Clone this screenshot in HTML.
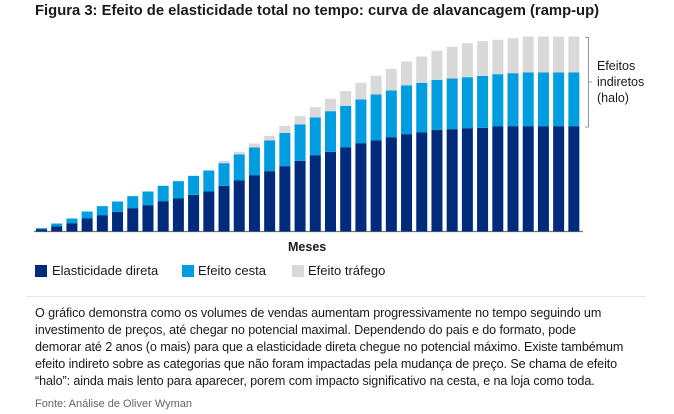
<!DOCTYPE html>
<html><head><meta charset="utf-8">
<style>
body{margin:0;background:#fff;width:674px;height:414px;overflow:hidden;font-family:"Liberation Sans",sans-serif;color:#1a1a1a}
.t{position:absolute;white-space:nowrap}
</style></head><body>
<div class="t" style="left:35px;top:3px;font-size:14.8px;font-weight:bold;letter-spacing:0px">Figura 3: Efeito de elasticidade total no tempo: curva de alavancagem (ramp-up)</div>
<svg id="chart" width="674" height="240" style="position:absolute;left:0;top:0">
<line x1="34" y1="231.5" x2="583" y2="231.5" stroke="#777" stroke-width="1.2"/>
<path d="M585 37.5 H588.5 V127 H585 M588.5 82 H592" fill="none" stroke="#999" stroke-width="1"/>
<text font-size="12.5" fill="#1a1a1a" font-family="Liberation Sans, sans-serif"><tspan x="597" y="70">Efeitos</tspan><tspan x="597" y="86">indiretos</tspan><tspan x="597" y="102">(halo)</tspan></text>
</svg>
<div class="t" style="left:288px;top:240px;font-size:12.5px;font-weight:bold">Meses</div>
<div>
<div style="position:absolute;left:35px;top:265px;width:12px;height:12px;background:#002b7a"></div>
<div class="t" style="left:52px;top:263px;font-size:13px">Elasticidade direta</div>
<div style="position:absolute;left:182px;top:265px;width:12px;height:12px;background:#009de0"></div>
<div class="t" style="left:198px;top:263px;font-size:13px">Efeito cesta</div>
<div style="position:absolute;left:292px;top:265px;width:12px;height:12px;background:#d9d9d9"></div>
<div class="t" style="left:308px;top:263px;font-size:13px">Efeito tráfego</div>
</div>
<div style="position:absolute;left:26px;top:296px;width:620px;height:1px;background:#e6e6e6"></div>
<div style="position:absolute;left:35px;top:305px;font-size:12.6px;line-height:17px;letter-spacing:-0.1px">
<div style="white-space:nowrap">O gráfico demonstra como os volumes de vendas aumentam progressivamente no tempo seguindo um</div>
<div style="white-space:nowrap">investimento de preços, até chegar no potencial maximal. Dependendo do pais e do formato, pode</div>
<div style="white-space:nowrap">demorar até 2 anos (o mais) para que a elasticidade direta chegue no potencial máximo. Existe tambémum</div>
<div style="white-space:nowrap">efeito indireto sobre as categorias que não foram impactadas pela mudança de preço. Se chama de efeito</div>
<div style="white-space:nowrap">“halo”: ainda mais lento para aparecer, porem com impacto significativo na cesta, e na loja como toda.</div>
</div>
<div class="t" style="left:35px;top:398px;font-size:11px;color:#666">Fonte: Análise de Oliver Wyman</div>
<script>
const months = Array.from({length:36},(_,i)=>i+1);
const direta = [7,15,25,39,49,59,70,79,91,99,110,120,137,153,169,181,196,212,229,239,252,265,273,283,292,297,305,307,309,311,315,316,316,316,316,316];
const cesta = [3,9,14,21,27,31,36,41,46,52,57,63,68,78,83,92,100,109,113,122,125,131,138,140,146,149,150,152,154,156,157,159,161,161,161,161];
const trafego = [0,0,0,0,0,0,0,0,0,0,0,0,7,8,12,14,21,25,31,37,44,50,56,65,72,79,87,95,102,104,103,105,108,108,108,108];
const svg = document.getElementById('chart');
const NS = 'http://www.w3.org/2000/svg';
const base = 231.5, x0 = 36, step = 15.21, bw = 11;
const yScale = v => v/3;
const xPos = i => x0 + i*step;
function rect(x,y,w,h,fill){const r=document.createElementNS(NS,'rect');r.setAttribute('x',x);r.setAttribute('y',y);r.setAttribute('width',w);r.setAttribute('height',Math.max(0,h));r.setAttribute('fill',fill);svg.appendChild(r);return r;}
months.forEach((m,i)=>{
  let y = base;
  const h1 = yScale(direta[i]);
  const r1 = rect(xPos(i), y-h1, bw, h1, '#002b7a');
  
  
  y -= h1;
  const h2 = yScale(cesta[i]);
  const r2 = rect(xPos(i), y-h2, bw, h2, '#009de0');
  
  
  y -= h2;
  const h3 = yScale(trafego[i]);
  const r3 = rect(xPos(i), y-h3, bw, h3, '#d9d9d9');
  
  
});
</script>
</body></html>
